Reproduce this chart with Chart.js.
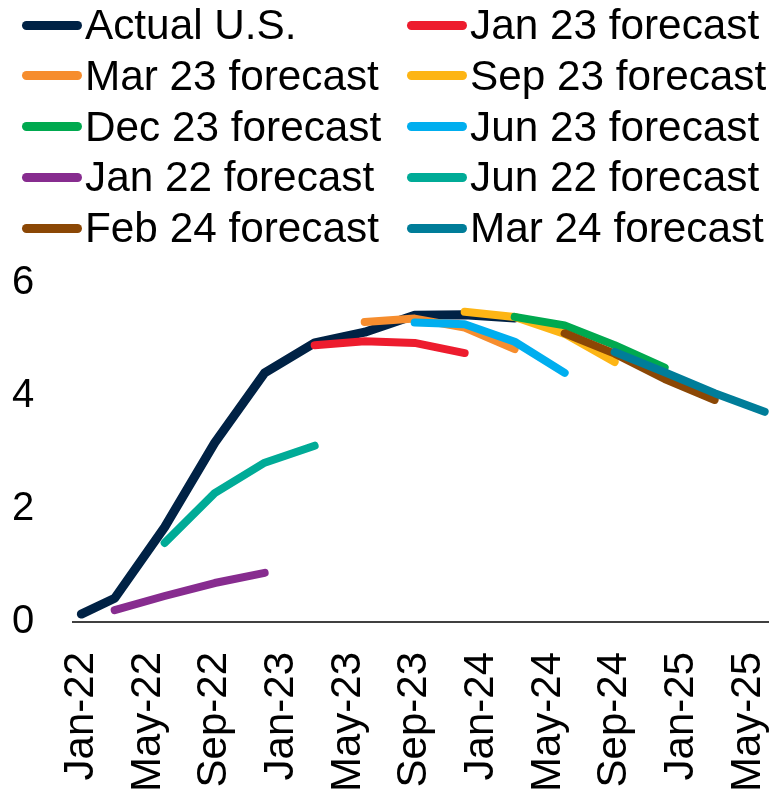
<!DOCTYPE html>
<html>
<head>
<meta charset="utf-8">
<script src="https://cdn.jsdelivr.net/npm/chart.js@4.4.1/dist/chart.umd.min.js"></script>
<style>
  html, body { margin: 0; padding: 0; background: #ffffff; overflow: hidden; }
  body { width: 769px; height: 791px; position: relative; }
  #chart { position: absolute; left: 0; top: 0; }
  #legend { position: absolute; left: 0; top: 0; width: 769px; height: 260px;
            font-family: "Liberation Sans", Arial, sans-serif; font-size: 42.3px; color: #000; }
  .item { position: absolute; height: 50px; display: flex; align-items: center; white-space: nowrap; }
  .swatch { width: 60px; height: 9px; border-radius: 5px; margin-right: 3px; flex: none; }
</style>
</head>
<body>
<canvas id="chart" width="775" height="791"></canvas>
<div id="legend"></div>
<script>
// Monthly category axis, Jan-22 through Jun-25
const months = [
  'Jan-22','Feb-22','Mar-22','Apr-22','May-22','Jun-22','Jul-22','Aug-22','Sep-22','Oct-22','Nov-22','Dec-22',
  'Jan-23','Feb-23','Mar-23','Apr-23','May-23','Jun-23','Jul-23','Aug-23','Sep-23','Oct-23','Nov-23','Dec-23',
  'Jan-24','Feb-24','Mar-24','Apr-24','May-24','Jun-24','Jul-24','Aug-24','Sep-24','Oct-24','Nov-24','Dec-24',
  'Jan-25','Feb-25','Mar-25','Apr-25','May-25','Jun-25'
];

// Dates at which the series are observed
const obsDates = ['Jan-22','Mar-22','Jun-22','Sep-22','Dec-22','Mar-23','Jun-23','Sep-23','Dec-23',
                  'Mar-24','Jun-24','Sep-24','Dec-24','Mar-25','Jun-25'];

// Values (%) aligned with obsDates; null where a series has no value
const actualUS   = [0.14, 0.42, 1.68, 3.17, 4.41, 4.94, 5.13, 5.43, 5.44, 5.38, null, null, null, null, null];
const jan22Fcst  = [null, 0.21, 0.46, 0.69, 0.87, null, null, null, null, null, null, null, null, null, null];
const jun22Fcst  = [null, null, 1.40, 2.28, 2.82, 3.12, null, null, null, null, null, null, null, null, null];
const jan23Fcst  = [null, null, null, null, null, 4.90, 4.97, 4.94, 4.76, null, null, null, null, null, null];
const mar23Fcst  = [null, null, null, null, null, null, 5.31, 5.37, 5.21, 4.83, null, null, null, null, null];
const jun23Fcst  = [null, null, null, null, null, null, null, 5.30, 5.27, 4.96, 4.41, null, null, null, null];
const sep23Fcst  = [null, null, null, null, null, null, null, null, 5.49, 5.40, 5.10, 4.60, null, null, null];
const dec23Fcst  = [null, null, null, null, null, null, null, null, null, 5.40, 5.25, 4.90, 4.50, null, null];
const feb24Fcst  = [null, null, null, null, null, null, null, null, null, null, 5.11, 4.75, 4.30, 3.93, null];
const mar24Fcst  = [null, null, null, null, null, null, null, null, null, null, null, 4.78, 4.42, 4.05, 3.72];

const yTicks = [0, 2, 4, 6];

// Series: legend order, colour and stacking layer (higher layer drawn on top)
const series = [
  { label: 'Actual U.S.',     values: actualUS,  color: '#002245', layer: 0, width: 9 },
  { label: 'Jan 23 forecast', values: jan23Fcst, color: '#ED1C2E', layer: 3, width: 8 },
  { label: 'Mar 23 forecast', values: mar23Fcst, color: '#F68D2E', layer: 4, width: 8 },
  { label: 'Sep 23 forecast', values: sep23Fcst, color: '#FDB515', layer: 6, width: 8 },
  { label: 'Dec 23 forecast', values: dec23Fcst, color: '#00A94F', layer: 7, width: 8 },
  { label: 'Jun 23 forecast', values: jun23Fcst, color: '#00AEEF', layer: 5, width: 8 },
  { label: 'Jan 22 forecast', values: jan22Fcst, color: '#872C8F', layer: 1, width: 8 },
  { label: 'Jun 22 forecast', values: jun22Fcst, color: '#00AB97', layer: 2, width: 8 },
  { label: 'Feb 24 forecast', values: feb24Fcst, color: '#8B4705', layer: 8, width: 8 },
  { label: 'Mar 24 forecast', values: mar24Fcst, color: '#007D99', layer: 9, width: 8 }
];

const datasets = series.map(s => ({
  label: s.label,
  data: obsDates.map((d, i) => s.values[i] == null ? null : { x: d, y: s.values[i] })
               .filter(p => p !== null),
  borderColor: s.color,
  backgroundColor: s.color,
  borderWidth: s.width,
  borderCapStyle: 'round',
  borderJoinStyle: 'round',
  pointRadius: 0,
  pointHoverRadius: 0,
  tension: 0,
  fill: false,
  order: 20 - s.layer
}));

const FONT = '"Liberation Sans", Arial, sans-serif';

new Chart(document.getElementById('chart'), {
  type: 'line',
  data: { labels: months, datasets },
  options: {
    responsive: false,
    animation: false,
    devicePixelRatio: 1,
    layout: { padding: { top: 283, left: 12, right: 2, bottom: 0 } },
    plugins: { legend: { display: false }, tooltip: { enabled: false } },
    scales: {
      x: {
        type: 'category',
        offset: true,
        grid: { display: false, drawTicks: false },
        border: { display: true, color: '#404040', width: 2 },
        ticks: {
          autoSkip: false,
          maxRotation: 90,
          minRotation: 90,
          padding: 30,
          color: '#000',
          font: { family: FONT, size: 42 },
          callback: (v, i) => (i % 4 === 0 ? months[i] : '')
        },
        afterFit: (scale) => {
          scale.height = 169;
          scale.paddingLeft = 0;
          scale.paddingRight = 0;
        }
      },
      y: {
        min: 0,
        max: 6,
        grid: { display: false, drawTicks: false },
        border: { display: false },
        afterBuildTicks: (scale) => { scale.ticks = yTicks.map(v => ({ value: v })); },
        ticks: {
          crossAlign: 'far',
          color: '#000',
          font: { family: FONT, size: 40 }
        },
        afterFit: (scale) => { scale.width = 61; }
      }
    }
  }
});

// Legend in two columns, filled row by row
const legend = document.getElementById('legend');
const colX = [22, 407];
series.forEach((s, i) => {
  const row = Math.floor(i / 2), col = i % 2;
  const item = document.createElement('div');
  item.className = 'item';
  item.style.left = colX[col] + 'px';
  item.style.top = (50.8 * row) + 'px';
  const sw = document.createElement('span');
  sw.className = 'swatch';
  sw.style.background = s.color;
  const tx = document.createElement('span');
  tx.textContent = s.label;
  item.appendChild(sw);
  item.appendChild(tx);
  legend.appendChild(item);
});
</script>
</body>
</html>
